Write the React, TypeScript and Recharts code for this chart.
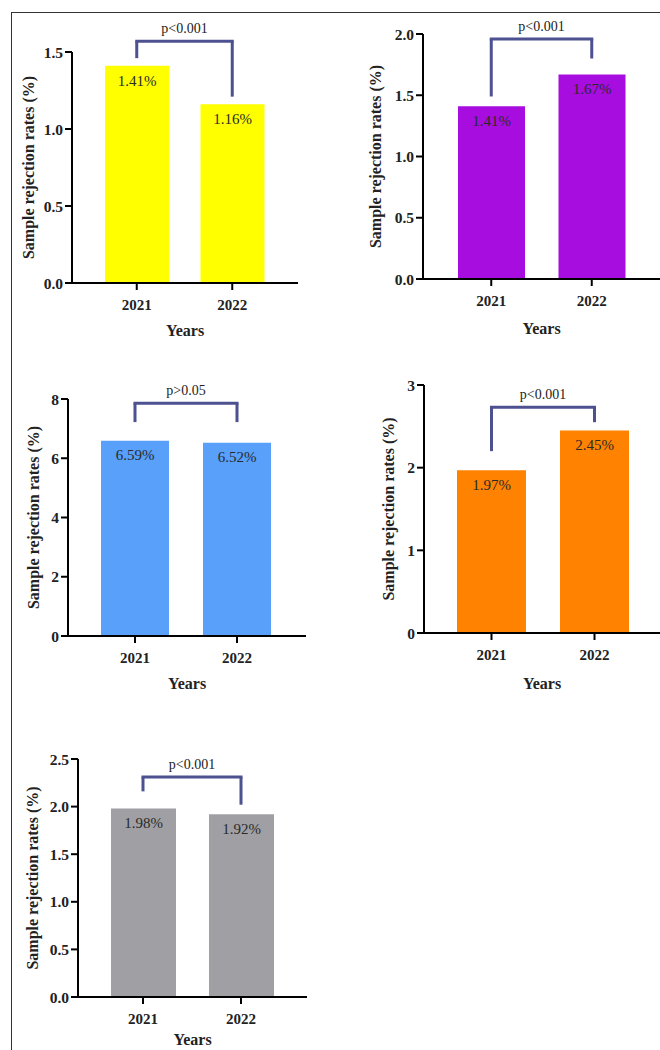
import React from 'react'
import { BarChart, Bar, XAxis, YAxis, ReferenceLine, LabelList, Cell } from 'recharts'

const FONT = '"Liberation Serif", "Times New Roman", serif'
const BRACKET = '#4d5190'

const years = ['2021', '2022']

const yellowRates = [1.41, 1.16]
const purpleRates = [1.41, 1.67]
const blueRates = [6.59, 6.52]
const orangeRates = [1.97, 2.45]
const grayRates = [1.98, 1.92]

const yellowTicks = [0, 0.5, 1.0, 1.5]
const purpleTicks = [0, 0.5, 1.0, 1.5, 2.0]
const blueTicks = [0, 2, 4, 6, 8]
const orangeTicks = [0, 1, 2, 3]
const grayTicks = [0, 0.5, 1.0, 1.5, 2.0, 2.5]

const pTexts = ['p<0.001', 'p<0.001', 'p>0.05', 'p<0.001', 'p<0.001']
// bracket: [top, left leg end, right leg end] in axis units
const brackets = [
  [1.57, 1.46, 1.21],
  [1.96, 1.49, 1.8],
  [7.86, 7.22, 7.22],
  [2.73, 2.2, 2.55],
  [2.31, 2.16, 2.02],
]

const panelColors = ['#ffff00', '#a80ddf', '#58a0fa', '#ff8200', '#a0a0a4']
const panelRates = [yellowRates, purpleRates, blueRates, orangeRates, grayRates]
const panelTicks = [yellowTicks, purpleTicks, blueTicks, orangeTicks, grayTicks]
const tickDecimals = [1, 1, 0, 0, 1]

// layout of each panel (pixels)
const layout = [
  { axisX: 72, right: 298, top: 52, bottom: 283, pad: [17, 18], barSize: 64, labelDist: 44, yearsDist: 47 },
  { axisX: 423, right: 660, top: 34, bottom: 279, pad: [18, 18], barSize: 67, labelDist: 48, yearsDist: 49 },
  { axisX: 68, right: 306, top: 399, bottom: 636, pad: [16, 18], barSize: 68, labelDist: 35, yearsDist: 47 },
  { axisX: 424, right: 660, top: 385, bottom: 633, pad: [16, 14], barSize: 69, labelDist: 36, yearsDist: 50 },
  { axisX: 78, right: 307, top: 759, bottom: 997, pad: [16, 17], barSize: 65, labelDist: 46, yearsDist: 42 },
]

const Y_W = 60
const M_TOP = 40
const X_H = 60

function Panel({ idx }: { idx: number }) {
  const l = layout[idx]
  const data = years.map((y, i) => ({ year: y, rate: panelRates[idx][i] }))
  const ticks = panelTicks[idx]
  const [bTop, bLeft, bRight] = brackets[idx]
  const width = l.right - l.axisX + Y_W
  const height = M_TOP + (l.bottom - l.top) + X_H

  return (
    <div style={{ position: 'absolute', left: l.axisX - Y_W, top: l.top - M_TOP }}>
      <BarChart width={width} height={height} data={data} margin={{ top: M_TOP, right: 0, bottom: 0, left: 0 }} barSize={l.barSize}>
        <XAxis
          dataKey="year"
          height={X_H}
          padding={{ left: l.pad[0], right: l.pad[1] }}
          axisLine={{ stroke: '#000', strokeWidth: 2 }}
          tickLine={{ stroke: '#000', strokeWidth: 2 }}
          tickSize={7}
          tickMargin={9}
          tick={{ fill: '#222', fontSize: 15, fontWeight: 700, fontFamily: FONT }}
          label={{
            content: (props: any) => {
              const vb = props.viewBox
              return (
                <text x={vb.x + vb.width / 2} y={vb.y + l.yearsDist} dy="0.35em" textAnchor="middle"
                  fill="#222" fontSize={16} fontWeight={700} fontFamily={FONT}>Years</text>
              )
            },
          }}
        />
        <YAxis
          width={Y_W}
          domain={[ticks[0], ticks[ticks.length - 1]]}
          ticks={ticks}
          interval={0}
          tickFormatter={(v: number) => v.toFixed(tickDecimals[idx])}
          axisLine={{ stroke: '#000', strokeWidth: 2 }}
          tickLine={{ stroke: '#000', strokeWidth: 2 }}
          tickSize={7}
          tickMargin={2}
          tick={{ fill: '#222', fontSize: 15.5, fontWeight: 700, fontFamily: FONT }}
          label={{
            content: (props: any) => {
              const vb = props.viewBox
              const cx = vb.x + vb.width - l.labelDist
              const cy = vb.y + vb.height / 2
              return (
                <text x={cx} y={cy} dy="0.35em" textAnchor="middle" transform={`rotate(-90 ${cx} ${cy})`}
                  fill="#222" fontSize={16} fontWeight={700} fontFamily={FONT}>Sample rejection rates (%)</text>
              )
            },
          }}
        />
        <Bar dataKey="rate" isAnimationActive={false}>
          {data.map((d) => (
            <Cell key={d.year} fill={panelColors[idx]} />
          ))}
          <LabelList
            dataKey="rate"
            position="insideTop"
            offset={9}
            formatter={(v: any) => `${v}%`}
            style={{ fill: '#2a2a2a', fontSize: 15, fontFamily: FONT }}
          />
        </Bar>
        <ReferenceLine
          segment={[{ x: years[0], y: bLeft }, { x: years[0], y: bTop }]}
          stroke={BRACKET} strokeWidth={3} ifOverflow="visible"
        />
        <ReferenceLine
          segment={[{ x: years[1], y: bRight }, { x: years[1], y: bTop }]}
          stroke={BRACKET} strokeWidth={3} ifOverflow="visible"
        />
        <ReferenceLine
          segment={[{ x: years[0], y: bTop }, { x: years[1], y: bTop }]}
          stroke={BRACKET} strokeWidth={3} strokeLinecap="square" ifOverflow="visible"
          label={{ value: pTexts[idx], position: 'top', offset: 8, fill: '#222', fontSize: 14, fontFamily: FONT }}
        />
      </BarChart>
    </div>
  )
}

export default function App() {
  return (
    <div style={{ position: 'absolute', left: 0, top: 0, width: 660, height: 1050, overflow: 'hidden', background: '#fff' }}>
      <div style={{ position: 'absolute', left: 11, top: 12, width: 660, height: 1050, borderLeft: '1.5px solid #333', borderTop: '1.5px solid #333' }} />
      {layout.map((_, i) => (
        <Panel key={i} idx={i} />
      ))}
    </div>
  )
}
